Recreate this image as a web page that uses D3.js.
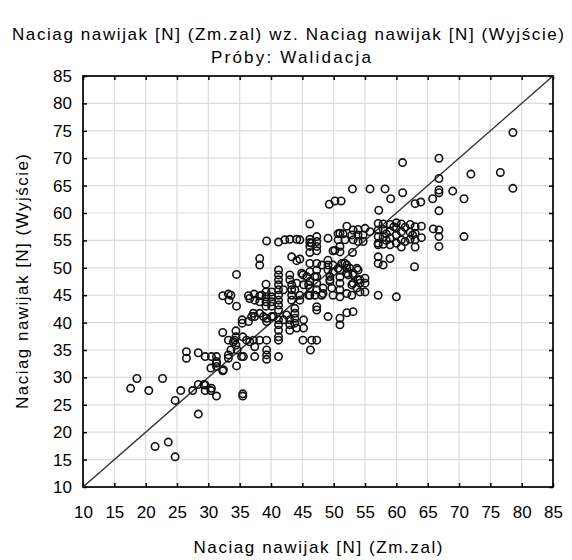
<!DOCTYPE html>
<html>
<head>
<meta charset="utf-8">
<script src="https://cdn.jsdelivr.net/npm/d3@7"></script>
<style>
body { margin: 0; background: #fff; }
svg { display: block; font-family: "Liberation Sans", Arial, sans-serif; }
</style>
</head>
<body>
<div id="chart"></div>
<script>
var titleLines = ["Naciag nawijak [N] (Zm.zal) wz. Naciag nawijak [N] (Wyjście)", "Próby: Walidacja"];
var xLabel = "Naciag nawijak [N] (Zm.zal)";
var yLabel = "Naciag nawijak [N] (Wyjście)";
var tickValues = [10, 15, 20, 25, 30, 35, 40, 45, 50, 55, 60, 65, 70, 75, 80, 85];

// observed (Zm.zal) values
var observed = [
 17.6,18.6,20.5,22.7,21.5,23.6,24.7,24.7,25.6,
 26.5,26.5,27.5,28.4,28.4,28.4,29.3,29.5,29.5,30.4,30.4,30.5,31.3,31.3,31.3,31.3,32.3,33.2,34.5,35.3,
 29.5,30.5,31.3,32.4,33.2,35.5,35.5,
 32.3,33.2,33.3,34.5,34.5,32.3,34.4,33.2,34.2,34.4,34.6,33.6,34.0,34.4,
 35.4,35.4,36.4,36.9,35.5,36.1,36.6,37.2,37.4,38.2,39.3,35.6,37.4,39.3,39.3,39.3,37.2,38.2,39.3,40.1,38.8,39.3,
 41.2,41.2,41.2,41.2,41.2,41.2,41.2,42.0,
 42.5,43.0,43.8,43.8,43.8,43.8,44.1,45.2,45.2,43.0,43.0,
 45.1,46.5,47.3,46.3,47.3,47.3,
 36.4,37.3,37.4,38.2,38.2,39.2,39.2,39.2,39.2,39.2,40.1,40.1,40.1,40.1,
 41.2,41.2,41.2,41.2,41.2,41.2,41.2,41.2,
 43.0,43.0,43.3,43.3,43.3,43.3,43.8,44.1,44.6,44.6,45.1,46.0,46.0,47.0,47.0,47.3,
 48.1,48.3,49.1,49.4,49.7,49.9,
 51.0,51.0,51.0,51.0,51.0,51.0,51.0,52.1,53.1,52.3,53.1,53.1,54.2,54.2,55.0,55.0,54.2,
 33.6,37.4,40.4,36.6,38.5,42.0,45.2,46.2,
 46.2,46.2,46.2,47.3,47.3,47.3,48.1,49.1,49.1,49.1,49.4,49.4,49.9,49.9,50.7,51.8,52.1,52.1,52.6,53.1,53.7,53.9,52.9,53.7,55.0,52.9,52.1,48.3,47.3,
 38.2,38.2,43.3,44.1,
 39.3,41.2,42.2,43.0,44.1,46.2,46.2,47.3,47.3,49.1,46.2,46.2,47.3,47.3,51.0,51.0,49.9,53.0,44.6,46.5,46.2,
 44.6,46.2,51.3,52.1,53.9,45.7,44.9,
 50.7,50.7,51.5,51.8,52.9,53.9,54.7,53.9,54.7,52.1,53.1,53.9,55.0,55.8,51.0,53.1,50.2,
 57.1,57.1,57.1,57.1,57.1,
 57.9,57.9,57.9,57.9,
 59.0,59.0,59.0,59.0,
 60.0,60.0,60.0,60.0,
 60.8,60.8,60.8,60.8,
 62.2,62.2,62.2,
 63.0,63.0,63.0,63.0,
 64.0,64.0,
 58.4,59.6,61.4,62.6,58.4,61.4,
 65.9,66.8,66.8,66.8,70.8,
 57.1,57.1,59.0,57.9,62.9,60.0,57.1,
 61.0,66.8,71.9,66.8,53.0,55.8,58.2,61.0,59.1,49.3,50.2,51.2,66.8,66.8,69.0,70.8,63.0,63.9,65.8,66.8,57.2,78.6,78.6,76.6
];

// predicted (Wyjście) values
var predicted = [
 28.0,29.8,27.6,29.8,17.4,18.2,15.5,25.8,27.6,
 34.7,33.5,27.6,34.5,23.3,28.7,28.7,27.6,33.8,27.6,31.7,33.8,33.8,32.6,32.0,26.6,31.2,34.1,32.1,33.8,
 28.6,28.0,32.9,31.4,33.5,27.0,26.6,
 44.9,45.2,44.1,43.0,48.8,38.2,38.5,36.8,36.8,35.9,35.0,35.0,36.5,37.4,
 40.5,39.9,40.2,41.1,37.4,36.8,36.5,36.8,35.6,36.8,36.8,33.8,33.8,35.0,34.1,33.3,41.7,41.7,40.8,41.1,41.1,40.2,
 40.5,39.6,38.6,37.4,36.8,33.8,42.3,40.5,
 41.4,40.5,42.6,41.7,40.8,39.9,39.0,40.5,39.0,38.6,39.6,
 36.8,36.8,36.8,35.0,42.3,42.9,
 44.9,45.2,44.1,44.9,43.8,47.0,45.6,44.7,43.8,43.0,45.6,44.7,43.8,43.0,
 49.6,48.7,47.8,46.9,46.0,45.0,44.1,43.2,
 48.7,47.8,46.9,46.0,45.0,44.1,46.0,47.2,45.0,44.1,48.7,46.9,45.0,48.4,45.0,47.2,
 45.0,46.3,41.1,47.8,46.3,45.0,
 49.6,48.3,47.2,46.0,44.7,40.8,39.6,41.8,42.0,48.7,48.7,47.2,47.2,47.8,47.2,45.6,45.6,
 45.0,41.1,41.1,44.4,45.0,46.0,46.9,45.0,
 49.3,47.5,46.3,50.8,49.6,48.4,50.5,51.4,50.5,49.6,48.4,47.5,50.5,49.3,49.9,50.8,49.9,49.0,49.9,49.0,49.9,47.8,46.9,46.3,48.1,45.0,45.3,45.3,46.0,
 51.7,50.5,52.0,51.3,
 54.9,54.7,55.1,55.2,55.2,55.2,54.6,55.7,54.8,55.4,53.9,52.8,53.9,53.1,53.9,52.9,53.1,52.8,55.1,54.5,58.0,
 51.6,50.8,50.8,50.5,49.6,48.4,49.0,
 56.2,55.1,56.2,55.1,56.0,56.0,56.0,54.8,54.8,57.6,56.9,57.0,57.2,56.6,56.3,55.1,53.2,
 58.1,56.9,55.7,54.5,54.2,
 58.0,57.0,55.6,54.3,
 57.9,56.7,55.4,54.2,
 58.2,57.2,56.0,54.5,
 58.0,56.6,55.1,53.8,
 57.9,56.5,55.2,
 57.5,56.3,55.1,53.8,
 57.6,55.5,
 56.2,57.5,57.4,56.0,55.0,54.8,
 57.1,56.9,55.7,53.9,55.7,
 52.0,50.8,51.7,50.5,50.2,44.7,45.0,
 69.2,70.0,67.1,66.3,64.4,64.4,64.4,63.7,62.6,61.6,62.2,62.2,64.2,63.7,64.0,62.6,61.7,62.0,62.6,60.4,60.5,74.7,64.5,67.4
];

var W = 572, H = 560;
var margin = {top: 76, right: 19, bottom: 73, left: 83};
var plotW = W - margin.left - margin.right;
var plotH = H - margin.top - margin.bottom;

var svg = d3.select("#chart").append("svg")
  .attr("width", W).attr("height", H);

var x = d3.scaleLinear().domain([10, 85]).range([margin.left, margin.left + plotW]);
var y = d3.scaleLinear().domain([10, 85]).range([margin.top + plotH, margin.top]);

// grid
var inner = tickValues.slice(1, -1);
svg.append("g").selectAll("line").data(inner).enter().append("line")
  .attr("x1", function(d){ return x(d); }).attr("x2", function(d){ return x(d); })
  .attr("y1", y(10)).attr("y2", y(85))
  .style("stroke", "#dcdcdc").style("stroke-width", 1.2);
svg.append("g").selectAll("line").data(inner).enter().append("line")
  .attr("y1", function(d){ return y(d); }).attr("y2", function(d){ return y(d); })
  .attr("x1", x(10)).attr("x2", x(85))
  .style("stroke", "#dcdcdc").style("stroke-width", 1.2);

// axes with inward ticks on all sides
var tickLen = 4;
function styleAxis(g){
  g.select(".domain").remove();
  g.selectAll(".tick line").style("stroke", "#000").style("stroke-width", 1.5);
  g.selectAll(".tick text").style("font-size", "17px").style("fill", "#000");
}
svg.append("g").attr("transform", "translate(0," + y(10) + ")")
  .call(d3.axisBottom(x).tickValues(tickValues).tickSize(-tickLen).tickPadding(19))
  .call(styleAxis);
svg.append("g").attr("transform", "translate(0," + y(85) + ")")
  .call(d3.axisTop(x).tickValues(tickValues).tickSize(-tickLen).tickFormat(""))
  .call(styleAxis);
svg.append("g").attr("transform", "translate(" + x(10) + ",0)")
  .call(d3.axisLeft(y).tickValues(tickValues).tickSize(-tickLen).tickPadding(11))
  .call(styleAxis);
svg.append("g").attr("transform", "translate(" + x(85) + ",0)")
  .call(d3.axisRight(y).tickValues(tickValues).tickSize(-tickLen).tickFormat(""))
  .call(styleAxis);

// frame
svg.append("rect")
  .attr("x", x(10)).attr("y", y(85))
  .attr("width", x(85) - x(10)).attr("height", y(10) - y(85))
  .style("fill", "none").style("stroke", "#000").style("stroke-width", 1.7);

// identity line
svg.append("line")
  .attr("x1", x(10)).attr("y1", y(10)).attr("x2", x(85)).attr("y2", y(85))
  .style("stroke", "#333").style("stroke-width", 1.4);

// points
var pts = observed.map(function(v, i){ return [v, predicted[i]]; });
svg.append("g").selectAll("circle").data(pts).enter().append("circle")
  .attr("cx", function(d){ return x(d[0]); })
  .attr("cy", function(d){ return y(d[1]); })
  .attr("r", 3.7)
  .style("fill", "none").style("stroke", "#111").style("stroke-width", 1.6);

// titles
svg.append("text").attr("x", 288).attr("y", 40).attr("text-anchor", "middle")
  .attr("textLength", 552).attr("lengthAdjust", "spacing")
  .style("font-size", "17px").text(titleLines[0]);
svg.append("text").attr("x", 291).attr("y", 63).attr("text-anchor", "middle")
  .attr("textLength", 160).attr("lengthAdjust", "spacing")
  .style("font-size", "17px").text(titleLines[1]);

svg.append("text").attr("x", (x(10) + x(85)) / 2).attr("y", 553).attr("text-anchor", "middle")
  .attr("textLength", 249).attr("lengthAdjust", "spacing")
  .style("font-size", "17px").text(xLabel);
svg.append("text").attr("transform", "translate(28," + ((y(10) + y(85)) / 2) + ") rotate(-90)")
  .attr("text-anchor", "middle")
  .attr("textLength", 255).attr("lengthAdjust", "spacing")
  .style("font-size", "17px").text(yLabel);
</script>
</body>
</html>
